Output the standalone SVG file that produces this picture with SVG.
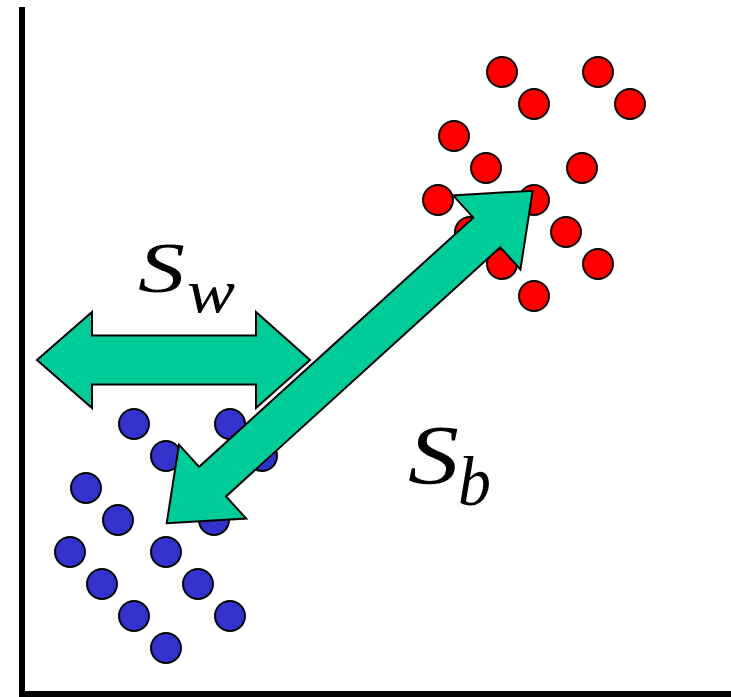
<svg xmlns="http://www.w3.org/2000/svg" width="731" height="697" viewBox="0 0 731 697">
<style>
.red{fill:#ff0000;stroke:#000;stroke-width:2}
.blue{fill:#3333cc;stroke:#000;stroke-width:2}
.arrow{fill:#00cc99;stroke:#000;stroke-width:2;stroke-linejoin:miter}
.axis{stroke:#000;stroke-width:6;fill:none}
.math{font-family:"Liberation Serif","Times New Roman",serif;font-style:italic;fill:#000}
</style>
<rect width="731" height="697" fill="#fff"/>
<g id="axes">
<line class="axis" x1="22" y1="7" x2="22" y2="694"/>
<line class="axis" x1="19" y1="694" x2="731" y2="694"/>
</g>
<g id="red-class">
<circle class="red" cx="502" cy="72" r="15"/>
<circle class="red" cx="598" cy="72" r="15"/>
<circle class="red" cx="534" cy="104" r="15"/>
<circle class="red" cx="630" cy="104" r="15"/>
<circle class="red" cx="454" cy="136" r="15"/>
<circle class="red" cx="486" cy="168" r="15"/>
<circle class="red" cx="582" cy="168" r="15"/>
<circle class="red" cx="438" cy="200" r="15"/>
<circle class="red" cx="534" cy="200" r="15"/>
<circle class="red" cx="470" cy="232" r="15"/>
<circle class="red" cx="566" cy="232" r="15"/>
<circle class="red" cx="502" cy="264" r="15"/>
<circle class="red" cx="598" cy="264" r="15"/>
<circle class="red" cx="534" cy="296" r="15"/>
</g>
<g id="blue-class">
<circle class="blue" cx="134" cy="424" r="15"/>
<circle class="blue" cx="230" cy="424" r="15"/>
<circle class="blue" cx="166" cy="456" r="15"/>
<circle class="blue" cx="262" cy="456" r="15"/>
<circle class="blue" cx="86" cy="488" r="15"/>
<circle class="blue" cx="118" cy="520" r="15"/>
<circle class="blue" cx="214" cy="520" r="15"/>
<circle class="blue" cx="70" cy="552" r="15"/>
<circle class="blue" cx="166" cy="552" r="15"/>
<circle class="blue" cx="102" cy="584" r="15"/>
<circle class="blue" cx="198" cy="584" r="15"/>
<circle class="blue" cx="134" cy="616" r="15"/>
<circle class="blue" cx="230" cy="616" r="15"/>
<circle class="blue" cx="166" cy="648" r="15"/>
</g>
<g id="connectors">
<polygon id="sw-arrow" class="arrow" points="37,360 92,312 92,335.5 256,335.5 256,312 310,360 256,408 256,384.5 92,384.5 92,408"/>
<polygon id="sb-arrow" class="arrow" transform="translate(166.7,523.3) rotate(-42.26)" points="0,0 62,-50 62,-20 432.5,-20 432.5,-50 494.5,0 432.5,50 432.5,20 62,20 62,50"/>
</g>
<g id="label-sw">
<text class="math" x="138" y="292" font-size="72" textLength="47" lengthAdjust="spacingAndGlyphs">S</text>
<text class="math" x="187" y="312" font-size="62" textLength="48" lengthAdjust="spacingAndGlyphs">w</text>
</g>
<g id="label-sb">
<text class="math" x="408" y="484" font-size="84" textLength="51" lengthAdjust="spacingAndGlyphs">S</text>
<text class="math" x="458" y="505" font-size="70" textLength="33" lengthAdjust="spacingAndGlyphs">b</text>
</g>
</svg>
